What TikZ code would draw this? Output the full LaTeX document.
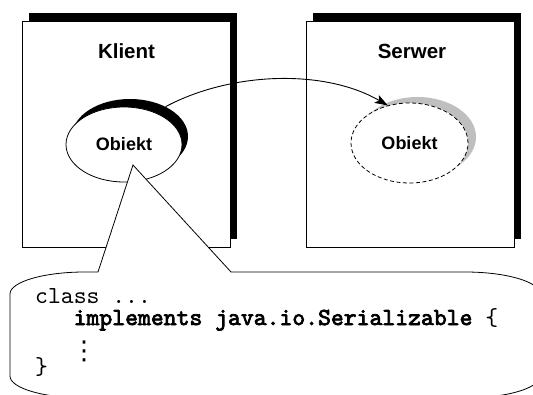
\documentclass[tikz,border=0pt]{standalone}
\usepackage{fontspec}
\newfontfamily\headfont{Liberation Sans}
\newfontfamily\codefont{lmmono10-regular.otf}[BoldFont=lmmono10-regular.otf,BoldFeatures={FakeBold=3}]
\newfontfamily\dotsfont{DejaVu Sans}
\usetikzlibrary{positioning,shapes.geometric,arrows.meta}

\begin{document}
\begin{tikzpicture}[x=1pt,y=1pt,
    frame/.style={draw,fill=white,line width=0.8pt,minimum width=208pt,minimum height=226pt,inner sep=0pt},
    frameshadow/.style={fill=black,minimum width=208pt,minimum height=226pt,inner sep=0pt},
    head/.style={font=\headfont\bfseries\fontsize{20.5}{24}\selectfont,inner sep=0pt},
    obj/.style={ellipse,draw,fill=white,line width=0.8pt,inner sep=0pt,font=\headfont\bfseries\fontsize{18}{20}\selectfont},
    objshadow/.style={ellipse,inner sep=0pt},
    callout/.style={draw,fill=white,line width=0.8pt},
    code/.style={anchor=base west,inner sep=0pt,font=\codefont\fontsize{24.5}{26}\selectfont}]
    \useasboundingbox (0,0) rectangle (533,394);
    \node[frameshadow] (kshade) at (132.5,267.5) {};
    \node[frame] (klient) at (126,260) {};
    \node[frameshadow] (sshade) at (417,267.5) {};
    \node[frame] (serwer) at (410.5,260) {};
    \node[head,anchor=base] (khead) at (126.5,335) {Klient};
    \node[head,anchor=base] (shead) at (412,335) {Serwer};
    \node[objshadow,fill=black,minimum width=116pt,minimum height=75pt] (kobjshade) at (130,257.5) {};
    \node[obj,minimum width=116pt,minimum height=75pt] (kobj) at (124,249.5) {Obiekt};
    \node[objshadow,fill=black!25,minimum width=117pt,minimum height=80pt] (sobjshade) at (417.5,257) {};
    \node[obj,dash pattern=on 4pt off 2.5pt,minimum width=117pt,minimum height=80pt] (sobj) at (409.5,251) {Obiekt};
    \draw[line width=0.9pt,-{Stealth[length=13pt,width=9pt,inset=3pt]}] (kobjshade.40) to[out=28,in=150,looseness=0.85] (sobj.120);
    \coordinate (tip) at (133,229);
    \draw[callout] (98,122) -- (tip) -- (231,122) -- (465,122)
        arc[start angle=90,end angle=0,x radius=75,y radius=22] -- (540,18)
        arc[start angle=0,end angle=-90,x radius=75,y radius=22] -- (85,-4)
        arc[start angle=270,end angle=180,x radius=75,y radius=22] -- (10,100)
        arc[start angle=180,end angle=90,x radius=75,y radius=22] -- cycle;
    \node[code] (line1) at (35,91) {class ...};
    \node[code] (line2) at (73.5,69) {\bfseries implements java.io.Serializable \mdseries\{};
    \node[code,font=\dotsfont\fontsize{26}{28}\selectfont] (line3) at (71,35) {⋮};
    \node[code] (line4) at (35,20) {\}};
\end{tikzpicture}
\end{document}
